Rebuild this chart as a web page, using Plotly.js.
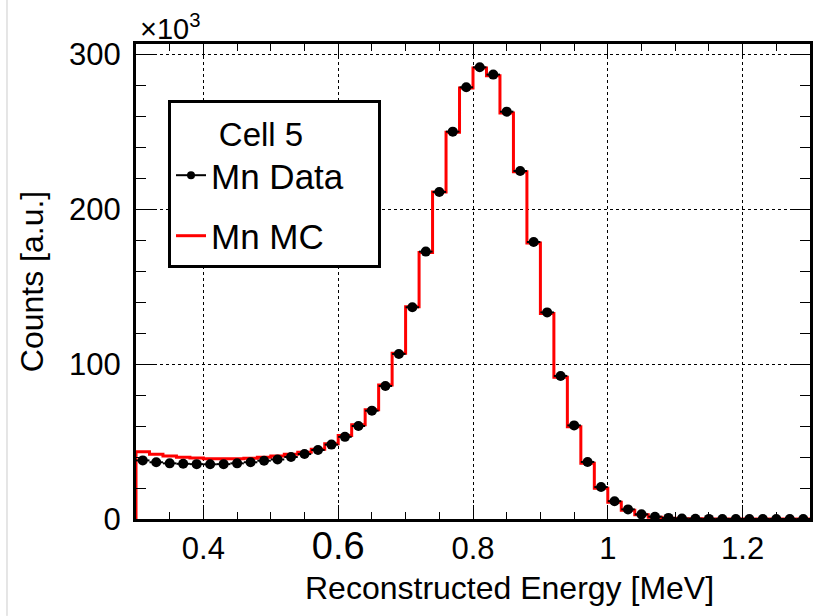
<!DOCTYPE html>
<html>
<head>
<meta charset="utf-8">
<script src="https://cdn.plot.ly/plotly-3.0.1.min.js"></script>
<style>
  html, body { margin: 0; padding: 0; background: #fff; }
  #chart { width: 817px; height: 616px; }
</style>
</head>
<body>
<div id="chart"></div>
<script>
// Bin centres of the reconstructed-energy histogram [MeV]
const energy = [0.31, 0.33, 0.35, 0.37, 0.39, 0.41, 0.43, 0.45, 0.47, 0.49,
                0.51, 0.53, 0.55, 0.57, 0.59, 0.61, 0.63, 0.65, 0.67, 0.69,
                0.71, 0.73, 0.75, 0.77, 0.79, 0.81, 0.83, 0.85, 0.87, 0.89,
                0.91, 0.93, 0.95, 0.97, 0.99, 1.01, 1.03, 1.05, 1.07, 1.09,
                1.11, 1.13, 1.15, 1.17, 1.19, 1.21, 1.23, 1.25, 1.27, 1.29];
const binHalfWidth = 0.01;

// Counts in units of 10^3
const mnData = [37.8, 36.6, 35.9, 35.6, 35.4, 35.3, 35.4, 35.9, 36.6, 37.6,
                38.4, 40.0, 41.9, 44.5, 48.0, 53.0, 60.0, 69.9, 85.8, 106.5,
                136.6, 172.5, 211.0, 249.9, 278.5, 291.4, 286.7, 262.8, 224.5, 178.7,
                133.3, 92.3, 60.4, 36.8, 20.6, 11.5, 6.2, 3.0, 1.5, 0.7,
                0.3, 0.15, 0.08, 0.05, 0.03, 0.02, 0.01, 0.01, 0.01, 0.01];

const mnMC   = [43.4, 41.8, 40.7, 39.9, 39.3, 38.9, 38.8, 38.9, 39.2, 39.8,
                40.6, 41.7, 43.0, 45.0, 48.5, 53.8, 60.8, 70.5, 86.5, 107.0,
                137.0, 172.0, 211.0, 249.5, 278.0, 291.0, 286.0, 262.0, 224.0, 178.0,
                132.5, 91.5, 59.5, 36.0, 19.8, 10.8, 5.6, 2.7, 1.2, 0.5,
                0.2, 0.1, 0.05, 0.02, 0.01, 0.0, 0.0, 0.0, 0.0, 0.0];

const xTickVals = [0.4, 0.6, 0.8, 1.0, 1.2];
const xTickText = ['0.4', '<span style="font-size:38px">0.6</span>', '0.8', '1', '1.2'];
const yTickVals = [0, 100, 200, 300];
const yTickText = ['0', '100', '200', '300'];

// Step outline of the MC histogram built from the bin centres
const mcX = [energy[0] - binHalfWidth];
const mcY = [0];
energy.forEach((c, i) => { mcX.push(c - binHalfWidth); mcY.push(mnMC[i]); });
mcX.push(energy[energy.length - 1] + binHalfWidth);
mcY.push(mnMC[mnMC.length - 1]);

const FONT = 'Liberation Sans, Arial, Helvetica, sans-serif';
const PAD = '&nbsp;&nbsp;&nbsp;';

const traces = [
  {
    type: 'scatter', mode: 'lines', x: mcX, y: mcY,
    line: { color: '#ff0000', width: 3, shape: 'hv' },
    name: 'Mn MC', legendgroup: 'mc', legendrank: 2,
    hoverinfo: 'skip'
  },
  {
    type: 'scatter', mode: 'markers', x: energy, y: mnData,
    marker: { color: '#000', size: 10, symbol: 'circle' },
    error_x: { type: 'constant', value: binHalfWidth, color: '#000', thickness: 2, width: 0 },
    name: 'Mn Data', showlegend: false
  },
  {
    // legend entry for the data points (marker with horizontal bar)
    type: 'scatter', mode: 'lines+markers', x: [null], y: [null],
    line: { color: '#000', width: 2 },
    marker: { color: '#000', size: 8 },
    name: 'Mn Data' + PAD, legendgroup: 'data', legendrank: 1
  }
];

const layout = {
  width: 817, height: 616,
  margin: { l: 136, r: 7, t: 44, b: 97 },
  paper_bgcolor: '#fff', plot_bgcolor: '#fff',
  font: { family: FONT, color: '#000', size: 31 },
  showlegend: true,
  legend: {
    x: 0.0475, xanchor: 'left', y: 0.882, yanchor: 'top',
    bgcolor: '#fff', bordercolor: '#000', borderwidth: 3,
    font: { family: FONT, size: 35, color: '#000' },
    title: { text: '&nbsp;&nbsp;&nbsp;&nbsp;&nbsp;Cell 5', font: { family: FONT, size: 33, color: '#000' }, side: 'top' },
    traceorder: 'grouped', tracegroupgap: 12,
    itemwidth: 30
  },
  xaxis: {
    range: [0.3, 1.3], autorange: false,
    tickmode: 'array', tickvals: xTickVals, ticktext: xTickText,
    ticks: 'inside', ticklen: 14, tickwidth: 1, tickcolor: '#000',
    minor: { dtick: 0.05, tick0: 0.3, ticks: 'inside', ticklen: 7, tickcolor: '#000', tickwidth: 1, showgrid: false },
    showline: true, linecolor: '#000', linewidth: 3, mirror: 'ticks',
    showgrid: true, gridcolor: '#000', gridwidth: 1, griddash: 'dot',
    zeroline: false, ticklabelstandoff: 0,
    tickfont: { family: FONT, size: 31, color: '#000' }
  },
  yaxis: {
    range: [0, 306.45], autorange: false,
    tickmode: 'array', tickvals: yTickVals, ticktext: yTickText,
    ticks: 'inside', ticklen: 20, tickwidth: 1, tickcolor: '#000',
    minor: { dtick: 20, tick0: 0, ticks: 'inside', ticklen: 10, tickcolor: '#000', tickwidth: 1, showgrid: false },
    showline: true, linecolor: '#000', linewidth: 3, mirror: 'ticks',
    showgrid: true, gridcolor: '#000', gridwidth: 1, griddash: 'dot',
    zeroline: false, ticklabelstandoff: 6,
    tickfont: { family: FONT, size: 31, color: '#000' },
    title: { text: 'Counts [a.u.]', font: { family: FONT, size: 32, color: '#000' }, standoff: 16 }
  },
  annotations: [
    {
      text: 'Reconstructed Energy [MeV]', xref: 'paper', yref: 'paper',
      x: 0.55, xanchor: 'center', y: -0.145, yanchor: 'middle',
      showarrow: false, font: { family: FONT, size: 32, color: '#000' }
    },
    {
      text: '×10<sup>3</sup>', xref: 'paper', yref: 'paper',
      x: 0.003, xanchor: 'left', y: 1.0, yanchor: 'bottom', yshift: -3,
      showarrow: false, font: { family: FONT, size: 29, color: '#000' }
    }
  ],
  shapes: [
    { type: 'line', xref: 'paper', yref: 'paper', x0: -0.1914, x1: -0.1914, y0: -0.204, y1: 1.093,
      line: { color: '#cccccc', width: 1 } }
  ]
};
// x title centre in paper units: pixel 510 within plot area 136..810
layout.annotations[0].x = (510 - 136) / 674;

Plotly.newPlot('chart', traces, layout, { displayModeBar: false, staticPlot: true });
</script>
</body>
</html>
